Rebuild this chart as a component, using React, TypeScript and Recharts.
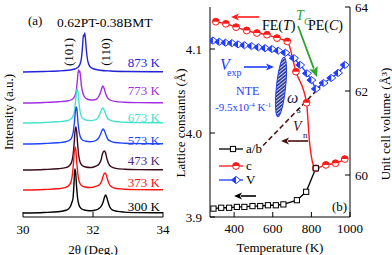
import React from 'react';
import { LineChart, Line, XAxis, YAxis } from 'recharts';

const FONT = 'Liberation Serif, DejaVu Serif, Times New Roman, serif';

// ---------- Panel (a): XRD patterns ----------
const xrdLabels = ['873 K', '773 K', '673 K', '573 K', '473 K', '373 K', '300 K'];
const xrdOffsets = [145, 114, 94, 73, 47, 27, 4];
const xrdColors = ['#2424d6', '#a32fe0', '#45e2cc', '#1e46ff', '#3a0b1c', '#ff1414', '#000000'];
const xrdLabelColors = ['#2424d6', '#a32fe0', '#45e2cc', '#1e46ff', '#4b2c78', '#ff1414', '#000000'];

const xrd873 = [[30,0],[30.6,0.5],[31.0,1],[31.3,1.8],[31.48,3],[31.58,5],[31.63,8],[31.67,14],[31.7,25],[31.72,35],[31.735,37],[31.75,36],[31.765,39],[31.785,33],[31.81,22],[31.84,13],[31.88,7.5],[31.94,4.5],[32.03,3],[32.2,1.8],[32.5,1],[33.0,0.5],[34,0.2]];
const xrd773 = [[30,0],[30.6,0.5],[31.0,1.2],[31.3,2.3],[31.42,4],[31.48,7],[31.52,12],[31.55,21],[31.575,31],[31.59,33],[31.605,31],[31.62,32],[31.645,26],[31.67,17],[31.71,10],[31.76,6],[31.83,4],[31.95,3],[32.05,3.3],[32.12,4.5],[32.17,7],[32.21,10],[32.245,14],[32.28,17],[32.32,14.5],[32.36,9.5],[32.41,5.5],[32.49,3],[32.62,1.6],[32.9,0.8],[33.3,0.4],[34,0.2]];
const xrd673 = [[30,0],[30.6,0.5],[31.0,1.2],[31.25,2.2],[31.37,4],[31.43,7],[31.47,12],[31.5,21],[31.525,30],[31.55,34],[31.575,30],[31.6,20],[31.63,12],[31.67,6.5],[31.73,4],[31.83,2.7],[31.95,2.4],[32.03,2.8],[32.1,3.8],[32.15,5.5],[32.19,8.5],[32.24,13],[32.28,15],[32.32,13],[32.36,9],[32.41,5],[32.49,2.8],[32.62,1.5],[32.9,0.8],[33.3,0.4],[34,0.2]];
const xrd573 = [[30,0],[30.6,0.5],[31.0,1.2],[31.22,2.2],[31.34,4],[31.4,7],[31.44,13],[31.47,22],[31.495,32],[31.52,37],[31.545,33],[31.57,22],[31.6,13],[31.64,7],[31.7,4],[31.8,2.7],[31.92,2.3],[32.0,2.6],[32.08,3.5],[32.15,5.5],[32.2,8.5],[32.25,13],[32.29,15],[32.33,13],[32.37,9],[32.42,5],[32.5,2.8],[32.62,1.5],[32.9,0.8],[33.3,0.4],[34,0.2]];
const xrd473 = [[30,0],[30.6,0.5],[31.0,1.2],[31.22,2.3],[31.33,4.5],[31.39,8],[31.43,15],[31.46,26],[31.485,38],[31.51,43],[31.535,38],[31.56,26],[31.59,15],[31.63,8],[31.69,4.5],[31.79,3],[31.92,2.5],[32.0,2.8],[32.08,3.8],[32.17,6],[32.23,10],[32.27,16],[32.32,19],[32.36,17],[32.4,11],[32.45,6],[32.52,3.2],[32.65,1.6],[32.9,0.8],[33.3,0.4],[34,0.2]];
const xrd373 = [[30,0],[30.6,0.5],[31.0,1.2],[31.2,2.3],[31.31,4.5],[31.37,8],[31.41,15],[31.44,26],[31.465,38],[31.49,43],[31.515,38],[31.54,26],[31.57,15],[31.61,8],[31.67,4.5],[31.77,3],[31.9,2.5],[32.0,2.8],[32.1,3.8],[32.19,5.5],[32.25,9],[32.29,14],[32.34,17],[32.38,15],[32.42,10],[32.47,5.5],[32.54,3],[32.67,1.5],[32.9,0.8],[33.3,0.4],[34,0.2]];
const xrd300 = [[30,0],[30.6,0.5],[31.0,1.2],[31.2,2.5],[31.3,4],[31.36,7],[31.4,11],[31.43,15],[31.455,28],[31.48,44],[31.505,40],[31.53,27],[31.56,15],[31.6,8],[31.66,4.5],[31.75,3],[31.9,2.2],[32.05,2.8],[32.15,4],[32.23,6.5],[32.29,11],[32.33,16],[32.36,18],[32.39,16],[32.43,11],[32.48,6],[32.55,3.2],[32.7,1.6],[32.9,0.9],[33.3,0.4],[34,0.2]];
const xrdProfiles = [xrd873, xrd773, xrd673, xrd573, xrd473, xrd373, xrd300];
const twoThetaTicks = [30, 32, 34];

// ---------- Panel (b): lattice constants and volume ----------
const abT = [293, 333, 374, 414, 453, 495, 535, 575, 616, 655, 725, 773, 823];
const abVal = [3.910, 3.911, 3.911, 3.912, 3.912, 3.913, 3.913, 3.914, 3.914, 3.915, 3.920, 3.930, 3.958];
const cT = [305, 357, 410, 465, 518, 570, 622, 675, 720, 775, 823, 875, 925, 973];
const cVal = [4.1325, 4.130, 4.126, 4.122, 4.119, 4.117, 4.113, 4.109, 4.073, 4.036, 3.958, 3.962, 3.964, 3.969];
const cFitT = [790, 800, 810];
const cFitVal = [3.99, 3.972, 3.962];
const vT = [290, 323, 355, 388, 420, 453, 490, 525, 560, 595, 628, 665, 710, 742, 777, 800, 823, 863, 903, 938, 973];
const vVal = [63.20, 63.17, 63.15, 63.14, 63.11, 63.09, 63.07, 63.04, 63.02, 63.0, 62.96, 62.91, 62.78, 62.62, 62.42, 62.26, 62.05, 62.19, 62.31, 62.43, 62.62];
const vnT = [550, 845];
const vnVal = [60.7, 62.1];
const tempTicks = [400, 600, 800, 1000];
const latticeTicks = [3.9, 4.0, 4.1];
const volumeTicks = [60, 62, 64];

const RED = '#ff1a1a';
const BLUE = '#1f3cff';
const GREEN = '#2ea32e';
const MAROON = '#4a0f12';

const tickStyle = { fill: '#000', fontSize: 13, fontFamily: FONT };
const blank = () => '';

const Square = ({ cx, cy }: any) => (
  <rect x={cx - 2.6} y={cy - 2.6} width={5.2} height={5.2} fill="#fff" stroke="#000" strokeWidth={1} />
);
const HalfCircle = ({ cx, cy }: any) => {
  const r = 3.4;
  return (
    <g>
      <circle cx={cx} cy={cy} r={r} fill="#fff" stroke={RED} strokeWidth={1} />
      <path d={`M ${cx - r} ${cy} A ${r} ${r} 0 0 1 ${cx + r} ${cy} Z`} fill={RED} />
    </g>
  );
};
const HalfDiamond = ({ cx, cy }: any) => (
  <g>
    <path d={`M ${cx - 4.5} ${cy} L ${cx} ${cy - 3.6} L ${cx + 4.5} ${cy} L ${cx} ${cy + 3.6} Z`} fill="#fff" stroke={BLUE} strokeWidth={1} />
    <path d={`M ${cx - 4.5} ${cy} L ${cx} ${cy - 3.6} L ${cx} ${cy + 3.6} Z`} fill={BLUE} />
  </g>
);

function Arrow({ x1, y1, x2, y2, color, head = 8, half = 3.6, w = 1.6 }: any) {
  const dx = x2 - x1, dy = y2 - y1;
  const L = Math.sqrt(dx * dx + dy * dy);
  const ux = dx / L, uy = dy / L;
  const bx = x2 - ux * head, by = y2 - uy * head;
  const px = -uy, py = ux;
  return (
    <g>
      <line x1={x1} y1={y1} x2={bx + ux * 1} y2={by + uy * 1} stroke={color} strokeWidth={w} />
      <path d={`M ${x2} ${y2} L ${bx + px * half} ${by + py * half} L ${bx + ux * 2} ${by + uy * 2} L ${bx - px * half} ${by - py * half} Z`} fill={color} />
    </g>
  );
}

export default function App() {
  const abData = abT.map((T, i) => ({ T, v: abVal[i] }));
  const cData = cT.map((T, i) => ({ T, v: cVal[i] }));
  const cFitData = [...cData.filter((d) => d.T < 790), ...cFitT.map((T, i) => ({ T, v: cFitVal[i] })), ...cData.filter((d) => d.T > 810)];
  const vData = vT.map((T, i) => ({ T, v: vVal[i] }));
  const vnData = vnT.map((T, i) => ({ T, v: vnVal[i] }));

  return (
    <div style={{ position: 'absolute', left: 0, top: 0, width: 392, height: 255, background: '#fff', fontFamily: FONT }}>
      <div style={{ position: 'absolute', left: 0, top: 0 }}>
        <LineChart width={170} height={255} margin={{ top: 7, right: 7, bottom: 0, left: 23 }}>
          <XAxis xAxisId="b" type="number" dataKey="x" domain={[30, 34]} ticks={twoThetaTicks} interval={0} allowDataOverflow height={38} tickSize={-5} tickMargin={13} stroke="#000" tick={tickStyle} />
          <XAxis xAxisId="t" orientation="top" type="number" dataKey="x" domain={[30, 34]} ticks={[32]} interval={0} allowDataOverflow height={0} tickSize={-5} tickFormatter={blank} stroke="#000" />
          <YAxis yAxisId="l" type="number" domain={[0, 210]} allowDataOverflow width={0} tickLine={false} tickFormatter={blank} stroke="#000" />
          <YAxis yAxisId="r" orientation="right" type="number" domain={[0, 210]} allowDataOverflow width={0} tickLine={false} tickFormatter={blank} stroke="#000" />
          {xrdProfiles.map((prof, k) => (
            <Line
              key={xrdLabels[k]}
              xAxisId="b"
              yAxisId="l"
              data={prof.map(([x, y]) => ({ x, y: y + xrdOffsets[k] }))}
              dataKey="y"
              type="monotone"
              stroke={xrdColors[k]}
              strokeWidth={1.4}
              dot={false}
              isAnimationActive={false}
            />
          ))}
        </LineChart>
      </div>

      <div style={{ position: 'absolute', left: 168, top: 0 }}>
        <LineChart width={224} height={255} margin={{ top: 7, right: 12, bottom: 0, left: 12 }}>
          <XAxis xAxisId="b" type="number" dataKey="T" domain={[275, 1000]} ticks={tempTicks} interval={0} allowDataOverflow height={38} tickSize={-5} tickMargin={12} stroke="#000" tick={tickStyle} />
          <XAxis xAxisId="t" orientation="top" type="number" dataKey="T" domain={[275, 1000]} ticks={[400, 600, 800]} interval={0} allowDataOverflow height={0} tickSize={-5} tickFormatter={blank} stroke="#000" />
          <YAxis yAxisId="l" type="number" domain={[3.9, 4.15]} ticks={latticeTicks} interval={0} allowDataOverflow width={30} tickSize={-5} tickMargin={13} tickFormatter={(v: number) => v.toFixed(1)} stroke="#000" tick={tickStyle} />
          <YAxis yAxisId="r" orientation="right" type="number" domain={[59, 64]} ticks={volumeTicks} interval={0} allowDataOverflow width={30} tickSize={-5} tickMargin={10} stroke="#000" tick={tickStyle} />
          <Line xAxisId="b" yAxisId="r" data={vnData} dataKey="v" type="linear" stroke={MAROON} strokeWidth={1.5} strokeDasharray="5 3" dot={false} isAnimationActive={false} />
          <Line xAxisId="b" yAxisId="r" data={vData} dataKey="v" type="linear" stroke={BLUE} strokeWidth={1.3} isAnimationActive={false}
            dot={(p: any) => <HalfDiamond key={`v${p.index}`} cx={p.cx} cy={p.cy} />} />
          <Line xAxisId="b" yAxisId="l" data={cFitData} dataKey="v" type="monotone" stroke={RED} strokeWidth={1.4} dot={false} isAnimationActive={false} />
          <Line xAxisId="b" yAxisId="l" data={cData} dataKey="v" type="linear" stroke="none" isAnimationActive={false}
            dot={(p: any) => <HalfCircle key={`c${p.index}`} cx={p.cx} cy={p.cy} />} />
          <Line xAxisId="b" yAxisId="l" data={abData} dataKey="v" type="linear" stroke="#000" strokeWidth={1.3} isAnimationActive={false}
            dot={(p: any) => <Square key={`a${p.index}`} cx={p.cx} cy={p.cy} />} />
        </LineChart>
      </div>

      <svg width={392} height={255} style={{ position: 'absolute', left: 0, top: 0, pointerEvents: 'none', fontFamily: FONT }}>
        <defs>
          <pattern id="hatch" patternUnits="userSpaceOnUse" width="2.6" height="2.6" patternTransform="rotate(45)">
            <rect width="2.6" height="2.6" fill="#1c2a8c" />
            <line x1="0.6" y1="0" x2="0.6" y2="2.6" stroke="#fff" strokeWidth="0.9" />
          </pattern>
        </defs>
        {/* Panel (a) texts */}
        <text x={8} y={112} fontSize={13} textAnchor="middle" dominantBaseline="central" transform="rotate(-90 8 112)">Intensity (a.u.)</text>
        <text x={93} y={249} fontSize={13} textAnchor="middle" dominantBaseline="central">2θ (Deg.)</text>
        <text x={28} y={25} fontSize={13}>(a)</text>
        <text x={57} y={27} fontSize={13.5}>0.62PT-0.38BMT</text>
        <text x={68} y={52} fontSize={13} textAnchor="middle" dominantBaseline="central" transform="rotate(-90 68 52)">(101)</text>
        <text x={105} y={52} fontSize={13} textAnchor="middle" dominantBaseline="central" transform="rotate(-90 105 52)">(110)</text>
        {xrdLabels.map((t, k) => (
          <text key={t} x={160} y={[67, 95, 122, 145, 165, 187, 211][k]} fontSize={13} textAnchor="end" fill={xrdLabelColors[k]}>{t}</text>
        ))}

        {/* Panel (b) texts */}
        <text x={180} y={123} fontSize={13} textAnchor="middle" dominantBaseline="central" transform="rotate(-90 180 123)">Lattice constants (Å)</text>
        <text x={385} y={124} fontSize={13} textAnchor="middle" dominantBaseline="central" transform="rotate(-90 385 124)">Unit cell volume (Å³)</text>
        <text x={280} y={247} fontSize={13} textAnchor="middle" dominantBaseline="central">Temperature (K)</text>
        <text x={332} y={211} fontSize={13}>(b)</text>

        <Arrow x1={259} y1={17} x2={231} y2={17} color={RED} />
        <text x={262} y={30} fontSize={14}>FE(<tspan fontStyle="italic">T</tspan>)</text>
        <text x={296} y={20} fontSize={14} fill={GREEN} fontStyle="italic">T</text>
        <text x={304} y={25} fontSize={10} fill={GREEN} fontStyle="italic">C</text>
        <text x={308} y={30} fontSize={14}>PE(<tspan fontStyle="italic">C</tspan>)</text>
        <Arrow x1={298} y1={26} x2={317} y2={77} color={GREEN} head={10} half={4.5} w={1.8} />

        <text x={220} y={70} fontSize={16} fill={BLUE} fontStyle="italic">V</text>
        <text x={227} y={76} fontSize={10} fill={BLUE}>exp</text>
        <Arrow x1={244} y1={67} x2={274} y2={67} color={BLUE} />
        <ellipse cx={281} cy={87} rx={4.6} ry={30} fill="url(#hatch)" stroke={BLUE} strokeWidth={1} transform="rotate(6 281 87)" />
        <text x={287} y={103} fontSize={16} fontStyle="italic" fill="#1a1a4a">ω</text>
        <text x={297} y={113} fontSize={10} fontStyle="italic" fill="#1a1a4a">s</text>
        <text x={236} y={95} fontSize={12} fill={BLUE}>NTE</text>
        <text x={215} y={111} fontSize={11} fill={BLUE}>-9.5x10<tspan dy={-4} fontSize={7}>-4</tspan><tspan dy={4} fontSize={11}> K</tspan><tspan dy={-4} fontSize={7}>-1</tspan></text>

        <text x={293} y={131} fontSize={14} fontStyle="italic" fill={MAROON}>V</text>
        <text x={303} y={138} fontSize={9} fill={MAROON}>n</text>
        <Arrow x1={308} y1={141} x2={281} y2={141} color={MAROON} />
        <Arrow x1={256} y1={196} x2={234} y2={196} color="#000" />

        {/* Legend */}
        <line x1={219} y1={149} x2={243} y2={149} stroke="#000" strokeWidth={1.3} />
        <Square cx={233} cy={149} />
        <text x={246} y={153} fontSize={13}>a/b</text>
        <line x1={219} y1={166} x2={243} y2={166} stroke={RED} strokeWidth={1.3} />
        <HalfCircle cx={236} cy={166} />
        <text x={246} y={170} fontSize={13}>c</text>
        <line x1={219} y1={180} x2={243} y2={180} stroke={BLUE} strokeWidth={1.3} />
        <HalfDiamond cx={236} cy={180} />
        <text x={246} y={184} fontSize={13}>V</text>
      </svg>
    </div>
  );
}
